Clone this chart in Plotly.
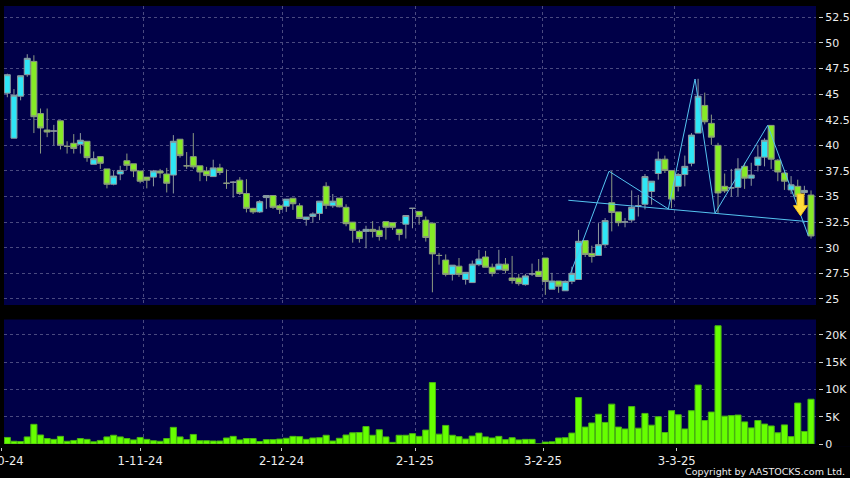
import plotly.graph_objects as go

opens = [45.1,40.7,44.8,46.9,48.2,43.1,41.5,41.4,42.4,39.9,40.2,40.1,40.4,38.15,38.9,37.7,36.2,37.2,38.5,38.2,
37.5,36.9,36.9,37.5,37.2,37.1,40.6,38.0,38.9,38.0,37.5,36.95,37.8,36.3,36.4,36.6,35.3,33.85,33.5,34.9,
35.1,34.1,34.05,34.84,34.1,32.76,33.05,33.35,36.0,34.1,34.85,33.95,32.5,31.6,31.6,31.8,31.7,32.55,32.45,31.8,
32.3,33.85,33.55,32.7,32.4,29.25,28.8,27.4,28.2,26.9,26.6,28.35,29.1,28.1,27.85,28.4,27.05,27.05,26.4,27.45,
27.7,29.0,25.95,26.75,25.8,26.72,26.9,30.7,29.45,29.25,30.3,34.4,33.5,32.52,32.7,34.1,34.25,35.5,37.25,38.65,
37.55,36.0,37.15,38.25,41.2,43.9,42.15,40.0,36.0,35.85,35.9,37.95,36.8,38.05,38.85,41.95,38.55,37.3,35.65,36.0,
35.4,35.15]
highs = [47.0,45.5,46.8,48.9,48.8,43.6,43.6,42.0,42.4,40.4,41.1,41.2,40.4,39.4,38.9,37.7,37.5,38.0,39.2,38.2,
37.5,36.9,37.6,37.7,37.8,41.0,40.6,39.35,41.2,38.0,37.9,38.6,38.2,37.65,36.5,36.9,36.7,33.9,34.65,35.1,
35.1,34.25,34.75,34.84,34.35,33.0,33.45,34.55,36.4,35.25,34.85,34.25,32.5,31.75,32.15,32.6,32.1,32.55,32.45,31.8,
33.15,33.85,33.55,33.05,32.4,29.5,29.35,28.3,29.0,27.6,28.75,29.8,29.7,28.45,29.8,29.0,29.2,27.45,27.45,28.45,
28.9,29.0,27.55,26.75,26.8,28.15,31.75,30.7,30.2,32.4,32.9,37.5,33.5,32.9,35.6,35.15,37.2,36.5,39.4,39.0,
37.55,37.3,39.0,41.2,46.5,45.15,43.0,40.25,37.25,37.7,38.75,38.3,38.3,40.05,40.7,41.95,38.65,37.6,37.0,36.65,
36.05,35.6]
lows = [44.7,40.7,44.4,46.7,41.2,39.2,40.8,40.0,39.6,39.2,39.2,39.2,38.4,38.15,37.7,35.8,36.1,36.6,37.6,36.9,
36.3,35.8,36.0,36.8,35.4,35.3,38.8,37.7,37.7,36.5,36.5,36.95,37.1,35.75,34.9,35.15,33.45,33.3,33.4,33.8,
33.8,33.3,33.5,33.7,32.86,32.15,32.45,32.7,33.8,33.9,33.95,32.1,30.5,30.5,29.95,31.0,30.7,30.8,31.75,30.7,
30.9,31.9,32.25,30.6,25.65,28.35,27.2,26.8,27.15,26.4,26.6,28.2,28.1,27.2,27.85,27.5,26.5,26.3,26.3,27.25,
27.15,25.4,25.95,25.6,25.8,26.45,26.9,29.1,28.55,29.25,30.1,31.6,32.1,32.0,32.45,33.05,33.75,34.2,36.65,37.3,
33.85,35.5,36.0,37.95,41.2,42.05,40.05,33.4,35.35,35.0,35.05,35.75,36.05,37.45,37.95,37.7,36.5,35.65,35.25,34.5,
35.15,30.9]
closes = [46.9,44.9,46.8,48.5,42.8,41.7,41.3,41.4,40.0,39.9,39.7,40.5,38.8,38.7,38.25,36.2,37.0,37.55,38.05,37.5,
36.5,36.6,37.5,37.3,36.3,40.4,39.0,38.0,37.9,37.4,37.05,37.8,37.35,36.3,36.4,35.3,33.85,33.5,34.5,35.1,
33.95,33.75,34.75,34.3,32.86,33.0,33.3,34.55,34.15,34.55,34.0,32.35,31.7,30.9,31.8,31.6,31.1,32.0,32.0,31.3,
33.15,33.85,33.05,31.0,29.4,29.25,27.4,28.3,27.4,27.6,28.4,28.9,28.1,27.5,28.4,27.8,26.8,26.5,27.25,27.45,
27.2,26.7,26.75,26.25,26.72,27.5,30.63,29.35,29.15,30.3,32.65,33.45,32.45,32.52,33.95,34.1,36.95,36.5,38.65,37.55,
34.75,37.15,37.95,41.0,44.8,42.3,40.8,35.35,35.55,35.85,37.7,36.8,37.1,38.85,40.5,38.65,37.4,36.5,36.15,35.0,
35.6,31.15]
volume_k = [1.2,0.5,0.45,1.3,3.6,1.65,1.0,0.85,1.4,0.5,0.65,1.0,0.85,0.4,0.65,1.3,1.6,1.3,1.0,0.75,
1.2,0.85,0.6,0.5,1.0,3.05,1.3,0.8,1.75,0.6,0.6,0.55,0.55,1.1,1.4,0.75,1.0,1.0,0.45,0.8,
0.8,0.9,1.05,1.4,1.35,0.85,1.1,1.15,1.6,0.55,1.05,1.65,2.05,2.1,3.2,1.6,2.6,1.3,0.3,1.6,
1.6,1.9,1.4,2.55,11.25,1.8,3.4,1.6,1.35,0.9,1.45,2.0,1.3,1.1,1.4,0.8,1.15,0.75,0.85,0.85,
0,0.35,0.4,1.1,1.15,2.0,8.5,3.1,3.85,5.45,3.95,7.3,3.1,2.75,6.85,2.9,5.6,3.45,5.0,2.1,
6.1,5.35,2.75,6.1,10.8,4.3,5.85,21.65,5.1,5.2,5.3,4.05,2.95,4.3,3.65,3.3,2.05,3.5,1.35,7.5,
2.3,8.2]
indices = list(range(len(opens)))

month_starts = [-0.5, 20.5, 41.5, 61.5, 80.5, 100.5]
date_ticks = [-0.95, 20.0, 41.28, 61.38, 80.65, 100.78]
date_labels = ["2-10-24", "1-11-24", "2-12-24", "2-1-25", "3-2-25", "3-3-25"]
price_ticks = [25, 27.5, 30, 32.5, 35, 37.5, 40, 42.5, 45, 47.5, 50, 52.5]
price_labels = ["25", "27.5", "30", "32.5", "35", "37.5", "40", "42.5", "45", "47.5", "50", "52.5"]
vol_ticks = [0, 5, 10, 15, 20]
vol_labels = ["0", "5K", "10K", "15K", "20K"]

pattern_x = [84.82, 90.59, 99.52, 103.54, 106.55, 114.48, 120.59]
pattern_y = [27.54, 37.47, 33.79, 46.48, 33.37, 41.96, 31.18]
neck_x = [84.46, 120.55]
neck_y = [34.64, 32.55]
arrow_x = [118.91, 119.93, 119.93, 120.47, 119.42, 118.37, 118.91, 118.91]
arrow_y = [35.25, 35.25, 34.11, 34.11, 33.13, 34.11, 34.11, 35.25]

W, H = 850, 478
GRID = "#4a4a80"
TXT = "#eeeeee"
FONT = "DejaVu Sans"
x_range = [-0.5, 121.75]

fig = go.Figure()
fig.add_trace(go.Candlestick(
    x=indices, open=opens, high=highs, low=lows, close=closes,
    increasing=dict(line=dict(color="#8c989c", width=1), fillcolor="#2ee6f6"),
    decreasing=dict(line=dict(color="#8c9a80", width=1), fillcolor="#86ea26"),
    whiskerwidth=0, xaxis="x", yaxis="y", showlegend=False))
fig.add_trace(go.Scatter(x=pattern_x, y=pattern_y, mode="lines",
                         line=dict(color="#55c4f0", width=1), xaxis="x", yaxis="y", showlegend=False))
fig.add_trace(go.Scatter(x=neck_x, y=neck_y, mode="lines",
                         line=dict(color="#55c4f0", width=1), xaxis="x", yaxis="y", showlegend=False))
fig.add_trace(go.Scatter(x=arrow_x, y=arrow_y, mode="lines", fill="toself", fillcolor="#ffdc3c",
                         line=dict(color="#f5c518", width=1), xaxis="x", yaxis="y", showlegend=False))
fig.add_trace(go.Bar(x=indices, y=volume_k, width=0.92,
                     marker=dict(color="#66ff00", line=dict(color="#49b412", width=1)),
                     xaxis="x2", yaxis="y2", showlegend=False))
fig.add_trace(go.Scatter(x=[None], y=[None], xaxis="x3", yaxis="y3", showlegend=False, hoverinfo="skip"))

x_dom = [4 / W, 816 / W]
grid_axis = dict(domain=x_dom, range=x_range, tickmode="array", tickvals=month_starts,
                 showticklabels=False, ticks="", showgrid=True, gridcolor=GRID, griddash="3px,3px",
                 gridwidth=1, zeroline=False, showline=False)
y_common = dict(side="right", anchor="free", position=818 / W, ticks="outside", ticklen=4,
                tickcolor="#cccccc", tickwidth=1, showgrid=True, gridcolor=GRID, griddash="3px,3px",
                gridwidth=1, zeroline=False, showline=False, tickmode="array",
                tickfont=dict(family=FONT, size=11, color=TXT))

fig.update_layout(
    width=W, height=H, margin=dict(l=0, r=0, t=0, b=0, pad=0, autoexpand=False), autosize=False,
    paper_bgcolor="#000000", plot_bgcolor="#000048",
    showlegend=False, boxgap=0.1, boxgroupgap=0,
    xaxis=dict(**grid_axis, anchor="y", rangeslider=dict(visible=False)),
    xaxis2=dict(**grid_axis, anchor="y2"),
    xaxis3=dict(domain=[0, 1], range=[-1.102, 126.87], anchor="y3", tickmode="array",
                tickvals=date_ticks, ticktext=date_labels, ticks="outside", ticklen=3,
                tickcolor="#cccccc", showgrid=False, zeroline=False, showline=False,
                ticklabeloverflow="allow", ticklabelstandoff=0,
                tickfont=dict(family=FONT, size=11.6, color=TXT)),
    yaxis=dict(**y_common, domain=[(H - 305) / H, (H - 6) / H], range=[24.41, 53.61],
               tickvals=price_ticks, ticktext=price_labels),
    yaxis2=dict(**y_common, domain=[(H - 444) / H, (H - 319.5) / H], range=[0, 22.8],
                tickvals=vol_ticks, ticktext=vol_labels),
    yaxis3=dict(domain=[(H - 447) / H, (H - 447) / H + 0.00026], anchor="x3", showticklabels=False, ticks="",
                showgrid=False, zeroline=False, showline=False, range=[0, 1]),
    annotations=[dict(text="Copyright by AASTOCKS.com Ltd.", xref="paper", yref="paper",
                      x=847 / W, y=(H - 471) / H, xanchor="right", yanchor="middle", showarrow=False,
                      font=dict(family=FONT, size=9.5, color=TXT))],
)

fig.write_html("out.html", config=dict(displayModeBar=False),
               post_script="document.body.style.margin='0';document.body.style.background='#000';document.body.style.overflow='hidden';")
